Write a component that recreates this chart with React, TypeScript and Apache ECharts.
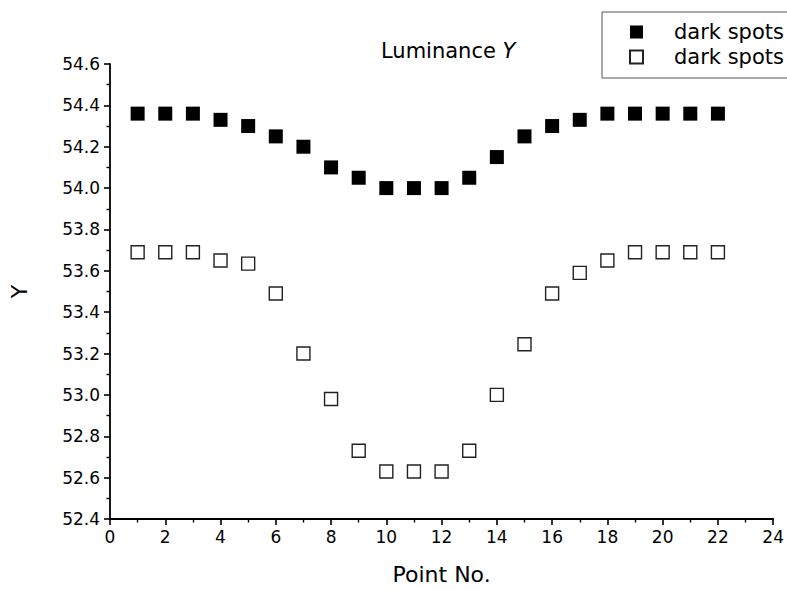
import React, { useEffect, useRef } from "react";
import * as echarts from "echarts";

const pointNo: number[] = [1, 2, 3, 4, 5, 6, 7, 8, 9, 10, 11, 12, 13, 14, 15, 16, 17, 18, 19, 20, 21, 22];
const filledValues: number[] = [54.36, 54.36, 54.36, 54.33, 54.3, 54.25, 54.2, 54.1, 54.05, 54.0, 54.0, 54.0, 54.05, 54.15, 54.25, 54.3, 54.33, 54.36, 54.36, 54.36, 54.36, 54.36];
const openValues: number[] = [53.69, 53.69, 53.69, 53.65, 53.635, 53.49, 53.2, 52.98, 52.73, 52.63, 52.63, 52.63, 52.73, 53.0, 53.245, 53.49, 53.59, 53.65, 53.69, 53.69, 53.69, 53.69];
const seriesLabels: string[] = ["dark spots", "dark spots"];

const FONT = "DejaVu Sans";

export default function App() {
  const ref = useRef<HTMLDivElement>(null);
  useEffect(() => {
    if (!ref.current) return;
    const chart = echarts.init(ref.current, undefined, { renderer: "svg" });
    const axisCommon = {
      axisLine: { show: true, onZero: false, lineStyle: { color: "#000", width: 1.8 } },
      axisTick: { show: true, inside: false, length: 6, lineStyle: { color: "#000", width: 1.6 } },
      minorTick: { show: true, splitNumber: 2, length: 3.5, lineStyle: { color: "#000", width: 1.4 } },
      splitLine: { show: false },
      minorSplitLine: { show: false },
    };
    chart.setOption({
      animation: false,
      backgroundColor: "#fff",
      title: {
        text: "{n|Luminance }{i|Y}",
        left: 381,
        top: 40,
        padding: 0,
        textStyle: {
          fontWeight: "normal",
          rich: {
            n: { fontFamily: FONT, fontSize: 21, fontWeight: "normal", color: "#000" },
            i: { fontFamily: FONT, fontSize: 21, fontWeight: "normal", fontStyle: "italic", color: "#000" },
          },
        },
      },
      legend: {
        left: 602,
        top: 12,
        orient: "vertical",
        data: ["s1", "s2"],
        formatter: (name: string) => (name === "s1" ? seriesLabels[0] : seriesLabels[1]),
        itemWidth: 13,
        itemHeight: 13,
        itemGap: 3,
        padding: [9, 30, 10, 27],
        borderColor: "#555",
        borderWidth: 1,
        textStyle: { fontFamily: FONT, fontSize: 21, lineHeight: 22, color: "#000", padding: [0, 0, 0, 26] },
      },
      grid: { left: 104, right: 13, top: 64, bottom: 69, containLabel: false },
      xAxis: {
        type: "value",
        min: 0,
        max: 24,
        interval: 2,
        ...axisCommon,
        axisLabel: { color: "#000", fontFamily: FONT, fontSize: 17, margin: 9 },
        name: "Point No.",
        nameLocation: "middle",
        nameGap: 44,
        nameTextStyle: { color: "#000", fontFamily: FONT, fontSize: 22 },
      },
      yAxis: {
        type: "value",
        min: 52.4,
        max: 54.6,
        interval: 0.2,
        ...axisCommon,
        axisLabel: {
          color: "#000",
          fontFamily: FONT,
          fontSize: 17,
          margin: 10,
          formatter: (v: number) => v.toFixed(1),
        },
        name: "Y",
        nameLocation: "middle",
        nameGap: 80,
        nameTextStyle: { color: "#000", fontFamily: FONT, fontSize: 22 },
      },
      series: [
        {
          name: "s1",
          type: "scatter",
          symbol: "rect",
          symbolSize: 14,
          itemStyle: { color: "#000", opacity: 1 },
          data: pointNo.map((x, i) => [x, filledValues[i]]),
        },
        {
          name: "s2",
          type: "scatter",
          symbol: "rect",
          symbolSize: 13,
          itemStyle: { color: "#fff", borderColor: "#222", borderWidth: 1.4, opacity: 1 },
          data: pointNo.map((x, i) => [x, openValues[i]]),
        },
      ],
    });
    return () => chart.dispose();
  }, []);
  return (
    <div
      ref={ref}
      style={{ position: "fixed", left: 0, top: 0, width: 787, height: 590, background: "#fff" }}
    />
  );
}
